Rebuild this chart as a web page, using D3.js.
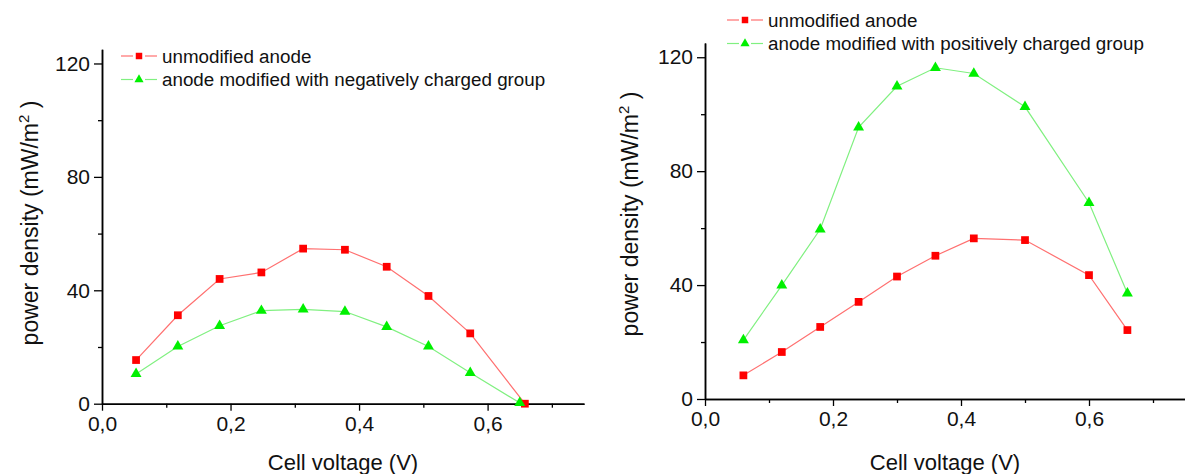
<!DOCTYPE html>
<html><head><meta charset="utf-8">
<script src="https://cdn.jsdelivr.net/npm/d3@7"></script>
<style>
html,body{margin:0;padding:0;background:#fff;}
svg{display:block;font-family:"Liberation Sans",Arial,sans-serif;}
</style></head>
<body>
<svg id="c" width="1185" height="474"></svg>
<script>
// ---- data ----
const xTickValues = [0, 0.2, 0.4, 0.6];
const xMinorTicks = [0.1, 0.3, 0.5, 0.7];
const yTickValues = [0, 40, 80, 120];
const yMinorTicks = [20, 60, 100];

const leftVoltageUnmod = [0.053, 0.118, 0.183, 0.248, 0.313, 0.378, 0.443, 0.508, 0.573, 0.658];
const leftUnmod        = [15.4, 31.2, 44.0, 46.3, 54.7, 54.3, 48.3, 38.0, 24.8, 0];
const leftVoltageNeg   = [0.053, 0.118, 0.183, 0.248, 0.313, 0.378, 0.443, 0.508, 0.573, 0.650];
const leftNeg          = [10.5, 20.2, 27.5, 32.8, 33.3, 32.5, 27.1, 20.2, 10.9, 0.3];

const rightVoltage = [0.06, 0.12, 0.18, 0.24, 0.30, 0.36, 0.42, 0.50, 0.60, 0.66];
const rightUnmod   = [8.3, 16.5, 25.3, 34.1, 43.0, 50.3, 56.4, 55.8, 43.5, 24.2];
const rightPos     = [20.7, 39.9, 59.6, 95.4, 109.8, 116.3, 114.3, 102.6, 68.9, 37.1];

const legendLeft  = ["unmodified anode", "anode modified with negatively charged group"];
const legendRight = ["unmodified anode", "anode modified with positively charged group"];

const xTitle = "Cell voltage (V)";

// ---- drawing ----
const svg = d3.select("#c");
const RED = "#ff0000", RED_L = "#ff7070", GREEN = "#00f000", GREEN_L = "#80f080";
const fmt = d => d3.format(".1f")(d).replace(".", ",");

function panel(cfg) {
  const x = d3.scaleLinear().domain([0, 0.75]).range([cfg.x0, cfg.x1]);
  const y = d3.scaleLinear().domain([0, 125]).range([cfg.y0, cfg.y1]);
  const g = svg.append("g");

  // axes
  g.append("g").attr("transform", `translate(0,${cfg.y0})`)
    .call(d3.axisBottom(x).tickValues(xTickValues).tickFormat(fmt).tickSize(7).tickSizeOuter(0).tickPadding(5));
  g.append("g").attr("transform", `translate(0,${cfg.y0})`)
    .call(d3.axisBottom(x).tickValues(xMinorTicks).tickFormat("").tickSize(4).tickSizeOuter(0));
  g.append("g").attr("transform", `translate(${cfg.x0},0)`)
    .call(d3.axisLeft(y).tickValues(yTickValues).tickSize(8).tickSizeOuter(0).tickPadding(4));
  g.append("g").attr("transform", `translate(${cfg.x0},0)`)
    .call(d3.axisLeft(y).tickValues(yMinorTicks).tickFormat("").tickSize(4).tickSizeOuter(0));
  g.selectAll(".domain").attr("stroke", "#000").attr("stroke-width", 1.5);
  g.selectAll(".tick line").attr("stroke", "#000").attr("stroke-width", 1.3);
  g.selectAll(".tick text").attr("fill", "#111").style("font-size", "21px")
    .style("font-family", '"Liberation Sans",Arial,sans-serif');

  // titles
  g.append("text").attr("x", (cfg.x0 + cfg.x1) / 2).attr("y", 470)
    .attr("text-anchor", "middle").style("font-size", "22px").attr("fill", "#111").text(xTitle);
  const yt = g.append("text")
    .attr("transform", `translate(${cfg.ytx},${cfg.yty}) rotate(-90)`)
    .attr("text-anchor", "middle").style("font-size", "23px").attr("fill", "#111");
  yt.append("tspan").text("power density (mW/m");
  yt.append("tspan").attr("dy", -9).style("font-size", "15px").text("2");
  yt.append("tspan").attr("dy", 9).text(" )");

  // series
  const line = d3.line().x(d => x(d[0])).y(d => y(d[1]));
  cfg.series.forEach(s => {
    const pts = s.xs.map((v, i) => [v, s.ys[i]]);
    g.append("path").datum(pts).attr("d", line).attr("fill", "none")
      .attr("stroke", s.light).attr("stroke-width", 1.2);
    g.selectAll(null).data(pts).enter().append("path")
      .attr("transform", d => `translate(${x(d[0])},${y(d[1])})`)
      .attr("d", d3.symbol().type(s.sym).size(s.size))
      .attr("fill", s.color);
  });

  // legend
  cfg.legend.forEach((txt, i) => {
    const s = cfg.series[i];
    const ly = cfg.ly + i * 23.5;
    const lx = cfg.lx;
    g.append("line").attr("x1", lx).attr("x2", lx + 12).attr("y1", ly).attr("y2", ly)
      .attr("stroke", s.light).attr("stroke-width", 1.2);
    g.append("line").attr("x1", lx + 24).attr("x2", lx + 36).attr("y1", ly).attr("y2", ly)
      .attr("stroke", s.light).attr("stroke-width", 1.2);
    g.append("path").attr("transform", `translate(${lx + 18},${ly})`)
      .attr("d", d3.symbol().type(s.sym).size(s.size * 0.7)).attr("fill", s.color);
    g.append("text").attr("x", lx + 41).attr("y", ly + 6.5)
      .style("font-size", "18.8px").attr("fill", "#111").text(txt);
  });
}

panel({
  x0: 102, x1: 584, y0: 403.7, y1: 49.3, ytx: 38, yty: 223, lx: 121, ly: 56,
  legend: legendLeft,
  series: [
    { xs: leftVoltageUnmod, ys: leftUnmod, color: RED, light: RED_L, sym: d3.symbolSquare, size: 60 },
    { xs: leftVoltageNeg, ys: leftNeg, color: GREEN, light: GREEN_L, sym: d3.symbolTriangle, size: 52 }
  ]
});
panel({
  x0: 705, x1: 1185, y0: 399, y1: 43, ytx: 638, yty: 214, lx: 727, ly: 20,
  legend: legendRight,
  series: [
    { xs: rightVoltage, ys: rightUnmod, color: RED, light: RED_L, sym: d3.symbolSquare, size: 60 },
    { xs: rightVoltage, ys: rightPos, color: GREEN, light: GREEN_L, sym: d3.symbolTriangle, size: 52 }
  ]
});
</script>
</body></html>
